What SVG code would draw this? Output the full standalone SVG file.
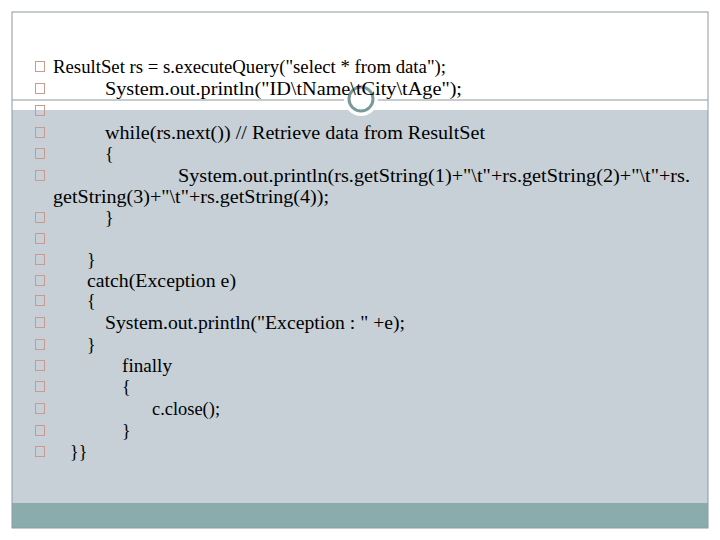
<svg xmlns="http://www.w3.org/2000/svg" width="720" height="540" viewBox="0 0 720 540">
<style>
text{font-family:"Liberation Serif","Times New Roman",serif;font-size:18px;fill:#000}
.b{fill:none;stroke:#c89a90;stroke-width:1}
</style>
<rect width="720" height="540" fill="#fff"/>
<g id="slide">
<rect x="12" y="110" width="696" height="393" fill="#c6d0d6"/>
<rect x="12" y="503" width="696" height="25" fill="#8aacac"/>
<rect x="12" y="12" width="696" height="516" fill="none" stroke="#8a9aa0" stroke-width="1"/>
<line x1="12" y1="100" x2="708" y2="100" stroke="#8a9aa0" stroke-width="1"/>
<circle cx="361" cy="99" r="17" fill="#fff"/>
<circle cx="361" cy="99" r="12" fill="none" stroke="#7a9a9a" stroke-width="3"/>
</g>
<g id="bullets">
<rect class="b" x="35.500" y="61.500" width="9" height="10"/>
<rect class="b" x="35.500" y="83.500" width="9" height="10"/>
<rect class="b" x="35.500" y="105.500" width="9" height="10"/>
<rect class="b" x="35.500" y="127.500" width="9" height="10"/>
<rect class="b" x="35.500" y="148.500" width="9" height="10"/>
<rect class="b" x="35.500" y="170.500" width="9" height="10"/>
<rect class="b" x="35.500" y="212.500" width="9" height="10"/>
<rect class="b" x="35.500" y="233.500" width="9" height="10"/>
<rect class="b" x="35.500" y="254.500" width="9" height="10"/>
<rect class="b" x="35.500" y="275.500" width="9" height="10"/>
<rect class="b" x="35.500" y="295.500" width="9" height="10"/>
<rect class="b" x="35.500" y="317.500" width="9" height="10"/>
<rect class="b" x="35.500" y="339.500" width="9" height="10"/>
<rect class="b" x="35.500" y="360.500" width="9" height="10"/>
<rect class="b" x="35.500" y="381.500" width="9" height="10"/>
<rect class="b" x="35.500" y="403.500" width="9" height="10"/>
<rect class="b" x="35.500" y="425.500" width="9" height="10"/>
<rect class="b" x="35.500" y="446.500" width="9" height="10"/>
</g>
<g id="code">
<text x="53" y="73" textLength="393" lengthAdjust="spacingAndGlyphs">ResultSet rs = s.executeQuery("select * from data");</text>
<text x="105" y="95" textLength="357" lengthAdjust="spacingAndGlyphs">System.out.println("ID\tName\tCity\tAge");</text>
<text x="105" y="139" textLength="380" lengthAdjust="spacingAndGlyphs">while(rs.next()) // Retrieve data from ResultSet</text>
<text x="105" y="160">{</text>
<text x="178" y="182" textLength="512" lengthAdjust="spacingAndGlyphs">System.out.println(rs.getString(1)+"\t"+rs.getString(2)+"\t"+rs.</text>
<text x="53" y="203" textLength="276" lengthAdjust="spacingAndGlyphs">getString(3)+"\t"+rs.getString(4));</text>
<text x="105" y="224">}</text>
<text x="87" y="266">}</text>
<text x="87" y="287" textLength="149" lengthAdjust="spacingAndGlyphs">catch(Exception e)</text>
<text x="87" y="307">{</text>
<text x="105" y="329" textLength="300" lengthAdjust="spacingAndGlyphs">System.out.println("Exception : " +e);</text>
<text x="87" y="351">}</text>
<text x="122" y="372" textLength="50" lengthAdjust="spacingAndGlyphs">finally</text>
<text x="122" y="393">{</text>
<text x="152" y="415" textLength="68" lengthAdjust="spacingAndGlyphs">c.close();</text>
<text x="122" y="437">}</text>
<text x="70" y="458">}}</text>
</g>
</svg>
